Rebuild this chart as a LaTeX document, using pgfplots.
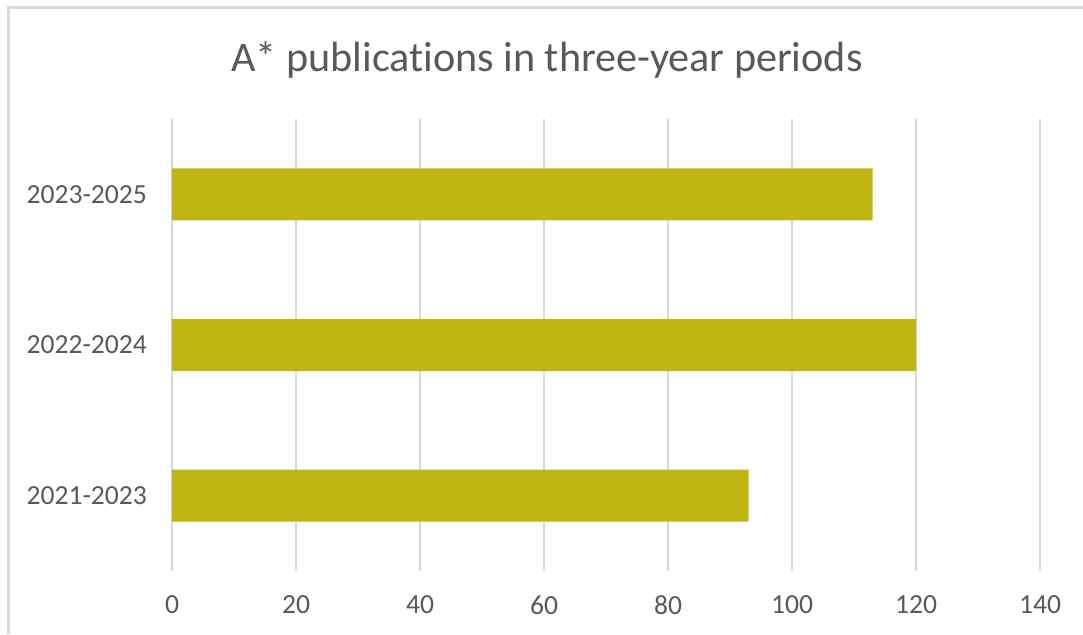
\documentclass[border=0pt]{standalone}
\usepackage{pgfplots}
\pgfplotsset{compat=1.18}
\usepackage{fontspec}
\setmainfont{Carlito}[Ligatures={NoCommon}]
\definecolor{barc}{RGB}{191,182,19}
\definecolor{gridc}{RGB}{217,217,217}
\definecolor{txtc}{RGB}{89,89,89}
\begin{document}
\begin{tikzpicture}[x=0.5pt,y=0.5pt]
\useasboundingbox (0,0) rectangle (1083,634);
\draw[gridc,line width=1.2pt] (8.5,0) -- (8.5,626.5) -- (1083,626.5);
\node[txtc,font=\fontsize{21.1pt}{25pt}\selectfont] at (547,574) {A* publications in three-year periods};
\begin{axis}[
  at={(86pt,31.5pt)}, anchor=south west,
  scale only axis, width=434pt, height=226pt,
  xbar, bar width=26pt,
  xmin=0, xmax=140, xtick={0,20,...,140},
  ymin=-0.5, ymax=2.5,
  ytick={0,1,2}, yticklabels={2021-2023,2022-2024,2023-2025},
  axis line style={draw=none},
  major tick length=0pt,
  xmajorgrids, grid style={gridc,line width=1pt},
  ymajorgrids=false,
  tick label style={txtc,font=\fontsize{13.8pt}{17pt}\selectfont},
  /pgf/number format/assume math mode=true,
  xticklabel style={yshift=-9pt},
  yticklabel style={xshift=-9pt},
  clip=false,
]
\addplot[fill=barc,draw=none] coordinates {(93,0) (120,1) (113,2)};
\end{axis}
\end{tikzpicture}
\end{document}
